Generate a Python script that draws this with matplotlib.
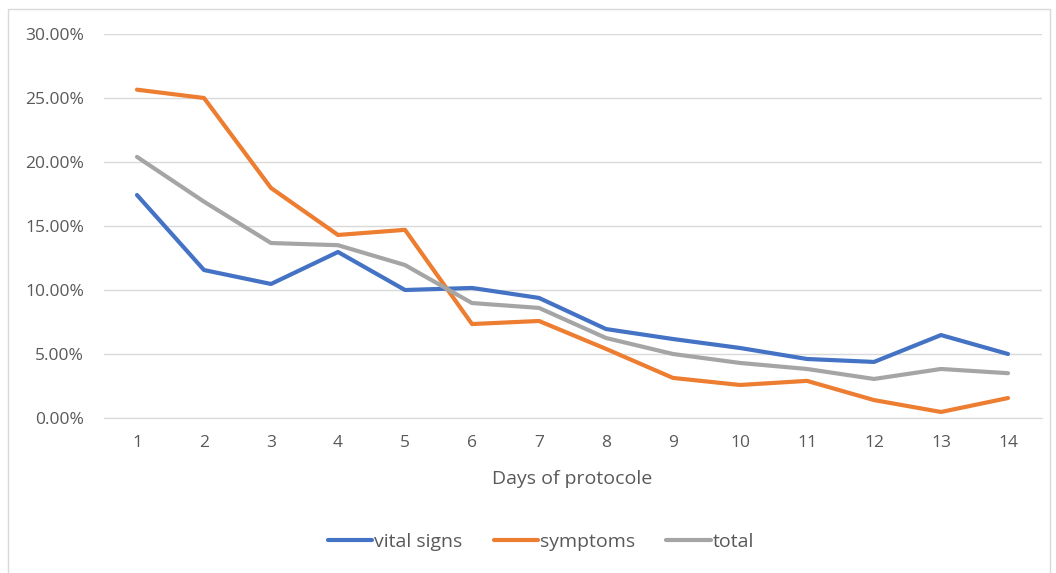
import matplotlib
matplotlib.use("Agg")
import matplotlib.pyplot as plt
from matplotlib.patches import Rectangle
from matplotlib.ticker import FuncFormatter

plt.rcParams['font.family'] = ['Open Sans', 'DejaVu Sans']

days = list(range(1, 15))
vital_signs = [17.42, 11.56, 10.47, 12.97, 10.0, 10.16, 9.38, 6.95, 6.17, 5.47, 4.61, 4.38, 6.48, 5.0]
symptoms = [25.65, 25.0, 17.97, 14.3, 14.7, 7.34, 7.58, 5.4, 3.13, 2.58, 2.9, 1.4, 0.47, 1.56]
total = [20.4, 16.9, 13.67, 13.5, 11.95, 8.98, 8.6, 6.25, 5.0, 4.3, 3.83, 3.05, 3.83, 3.5]

W, H = 1056, 573
fig = plt.figure(figsize=(W / 100, H / 100), dpi=100)
ax = fig.add_axes([103.5 / W, 1 - 418 / H, 938 / W, 384 / H])

# chart border
fig.patches.append(Rectangle((8 / W, -0.01), 1042 / W, 1 - 9 / H + 0.01,
                             transform=fig.transFigure, fill=False,
                             edgecolor='#d9d9d9', linewidth=1))

ax.plot(days, vital_signs, color='#4472c4', lw=3, label='vital signs', solid_capstyle='round')
ax.plot(days, symptoms, color='#ed7d31', lw=3, label='symptoms', solid_capstyle='round')
ax.plot(days, total, color='#a5a5a5', lw=3, label='total', solid_capstyle='round')

ax.set_xlim(0.5, 14.5)
ax.set_ylim(0, 30)
ax.set_yticks(range(0, 31, 5))
ax.yaxis.set_major_formatter(FuncFormatter(lambda v, p: '%.2f%%' % v))
ax.set_xticks(days)
ax.grid(axis='y', color='#d9d9d9', lw=1)
ax.set_axisbelow(True)
for s in ax.spines.values():
    s.set_visible(False)
ax.spines['bottom'].set_visible(True)
ax.spines['bottom'].set_color('#d9d9d9')
ax.tick_params(length=0, labelsize=12.5, colors='#595959')
ax.tick_params(axis='y', pad=14)
ax.tick_params(axis='x', pad=12)
ax.set_xlabel('Days of protocole', fontsize=14, color='#595959', labelpad=14)

leg = fig.legend(loc='center', bbox_to_anchor=(541 / W, 1 - 542 / H), ncol=3, frameon=False,
                 fontsize=14, handlelength=2.3, handletextpad=0.1, columnspacing=1.6)
for t in leg.get_texts():
    t.set_color('#595959')

fig.savefig('out.png', dpi=100)
